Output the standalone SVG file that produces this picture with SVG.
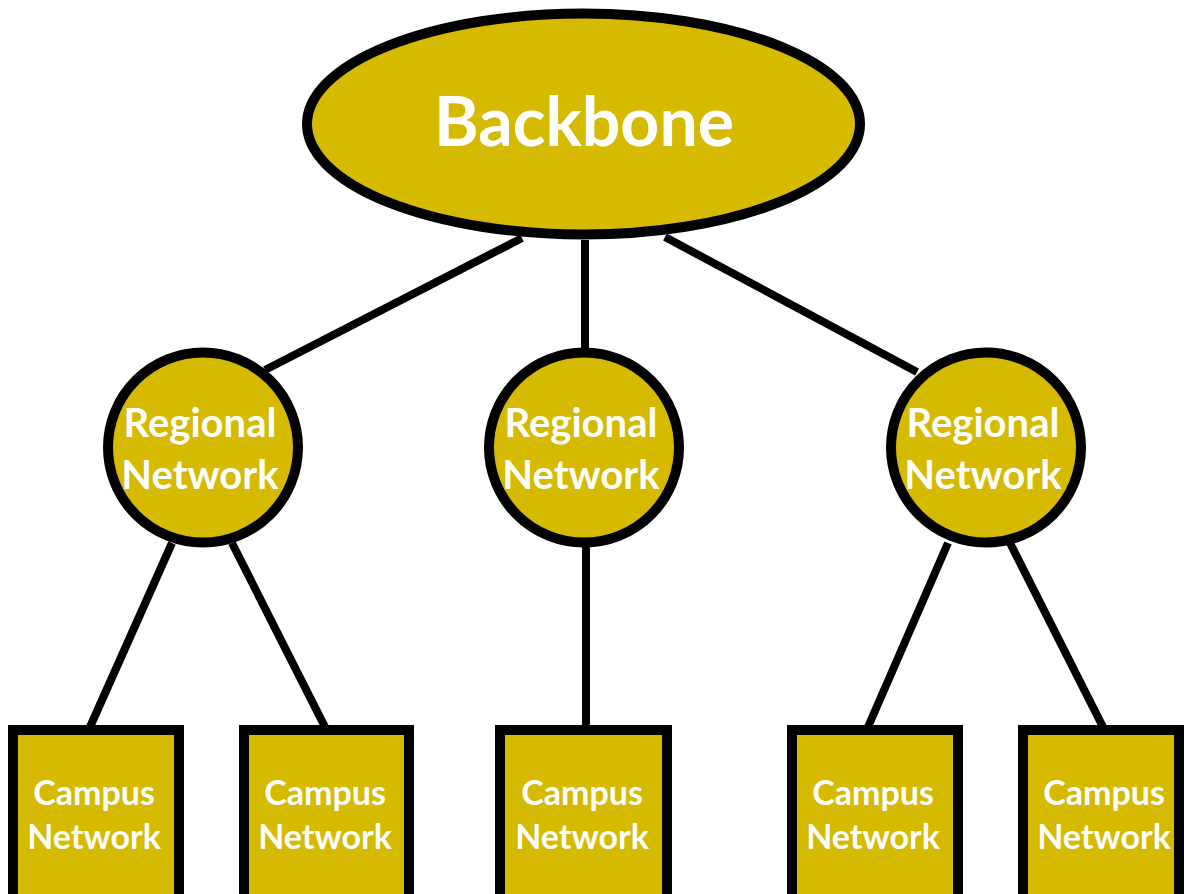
<svg xmlns="http://www.w3.org/2000/svg" width="1187" height="894" viewBox="0 0 1187 894">
<style>
.n{fill:#D5BA00;stroke:#000;stroke-width:10}
.t{fill:#fff;font-family:Lato,"Open Sans","Liberation Sans",sans-serif;font-weight:bold;text-anchor:middle}
.r{font-size:40px}
.c{font-size:34px}
.b{font-size:68px}
.e{stroke:#000;stroke-width:8;fill:none}
</style>
<rect width="1187" height="894" fill="#fff"/>
<g id="connectors">
<line class="e" x1="522" y1="238" x2="265" y2="370"/>
<line class="e" x1="585" y1="240" x2="585" y2="352"/>
<line class="e" x1="665" y1="237" x2="917" y2="372"/>
<line class="e" x1="172" y1="543" x2="90" y2="727"/>
<line class="e" x1="232" y1="543" x2="325" y2="727"/>
<line class="e" x1="586" y1="545" x2="586" y2="727"/>
<line class="e" x1="948" y1="543" x2="868" y2="727"/>
<line class="e" x1="1010" y1="543" x2="1103" y2="727"/>
</g>
<g id="backbone">
<ellipse class="n" cx="583.5" cy="124" rx="276.5" ry="110.5" stroke-width="11"/>
<text class="t b" x="584" y="146">Backbone</text>
</g>
<g id="regional1">
<circle class="n" cx="203" cy="447.5" r="95"/>
<text class="t r" x="200" y="437">Regional</text>
<text class="t r" x="200" y="489">Network</text>
</g>
<g id="regional2">
<circle class="n" cx="584" cy="447.5" r="95"/>
<text class="t r" x="581" y="437">Regional</text>
<text class="t r" x="581" y="489">Network</text>
</g>
<g id="regional3">
<circle class="n" cx="986" cy="447.5" r="95"/>
<text class="t r" x="983" y="437">Regional</text>
<text class="t r" x="983" y="489">Network</text>
</g>
<g id="campus1">
<rect class="n" x="13" y="730" width="166" height="200"/>
<text class="t c" x="94" y="805">Campus</text>
<text class="t c" x="94" y="849">Network</text>
</g>
<g id="campus2">
<rect class="n" x="244" y="730" width="165" height="200"/>
<text class="t c" x="325" y="805">Campus</text>
<text class="t c" x="325" y="849">Network</text>
</g>
<g id="campus3">
<rect class="n" x="500" y="730" width="167" height="200"/>
<text class="t c" x="582" y="805">Campus</text>
<text class="t c" x="582" y="849">Network</text>
</g>
<g id="campus4">
<rect class="n" x="792" y="730" width="166" height="200"/>
<text class="t c" x="873" y="805">Campus</text>
<text class="t c" x="873" y="849">Network</text>
</g>
<g id="campus5">
<rect class="n" x="1023" y="730" width="156" height="200"/>
<text class="t c" x="1104" y="805">Campus</text>
<text class="t c" x="1104" y="849">Network</text>
</g>
</svg>
